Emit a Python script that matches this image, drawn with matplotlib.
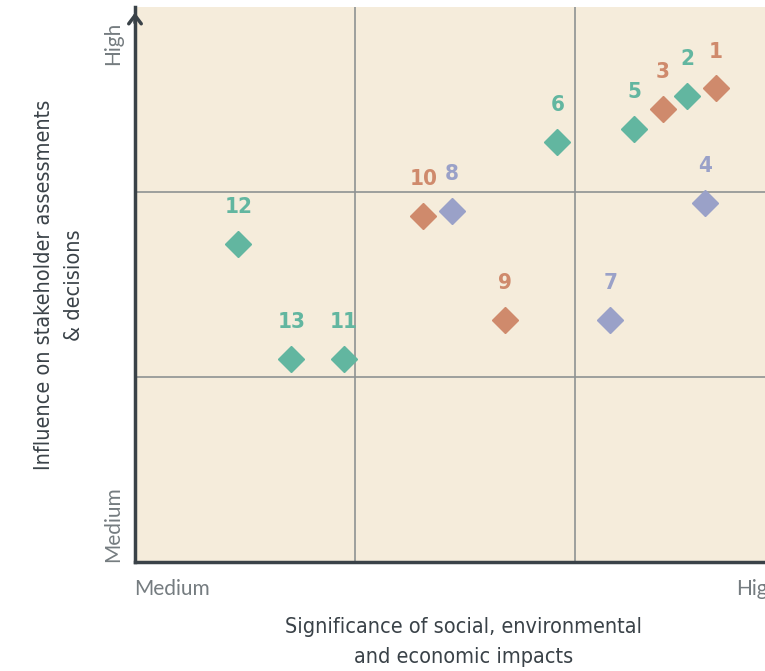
import matplotlib
matplotlib.use("Agg")
import matplotlib.pyplot as plt

labels = ["1", "2", "3", "4", "5", "6", "7", "8", "9", "10", "11", "12", "13"]
impact = [2.64, 2.51, 2.40, 2.59, 2.27, 1.92, 2.16, 1.44, 1.68, 1.31, 0.95, 0.47, 0.71]
influence = [2.56, 2.52, 2.45, 1.94, 2.34, 2.27, 1.31, 1.90, 1.31, 1.87, 1.10, 1.72, 1.10]
groups = ["o", "g", "o", "p", "g", "g", "p", "p", "o", "o", "g", "g", "g"]
group_colors = {"g": "#62b6a0", "o": "#cf8a6c", "p": "#9aa1c8"}

fig = plt.figure(figsize=(7.65, 6.71), dpi=100)
ax = fig.add_axes([135/765, 109/671, 660/765, 555/671])
ax.set_facecolor("#f5ecdb")
ax.set_xlim(0, 3)
ax.set_ylim(0, 3)

for v in (1, 2):
    ax.axvline(v, color="#8e9292", lw=1.2, zorder=1)
    ax.axhline(v, color="#8e9292", lw=1.2, zorder=1)

for lab, x, y, g in zip(labels, impact, influence, groups):
    c = group_colors[g]
    ax.plot(x, y, marker="D", ms=13, color=c, mec=c, ls="none", zorder=3, clip_on=False)
    ax.annotate(lab, (x, y), xytext=(0, 26.5), textcoords="offset points",
                ha="center", va="center", color=c, fontsize=16,
                fontfamily="DejaVu Sans", fontweight="bold", fontstretch="condensed")

for s in ("top", "right"):
    ax.spines[s].set_visible(False)
for s in ("left", "bottom"):
    ax.spines[s].set_color("#3a4248")
    ax.spines[s].set_linewidth(2.5)
ax.set_xticks([])
ax.set_yticks([])

# arrow head on the y axis
ax.annotate("", xy=(0, 2.985), xytext=(0, 2.9), xycoords="data",
            arrowprops=dict(arrowstyle="->,head_length=0.6,head_width=0.45",
                            color="#3a4248", lw=2.5), annotation_clip=False)

tick_col = "#757c80"
tick_kw = dict(fontsize=15, color=tick_col, fontfamily="Lato")
fig.text(134/765, 1 - 589/671, "Medium", ha="left", va="center", **tick_kw)
fig.text(736/765, 1 - 589/671, "High", ha="left", va="center", **tick_kw)
fig.text(113/765, 1 - 43/671, "High", ha="center", va="center", rotation=90, **tick_kw)
fig.text(113/765, 1 - 524/671, "Medium", ha="center", va="center", rotation=90, **tick_kw)

title_col = "#3a4248"
fig.text(464/765, 1 - 642/671, "Significance of social, environmental\nand economic impacts",
         ha="center", va="center", fontsize=15.5, color=title_col, linespacing=1.6,
         fontfamily="DejaVu Sans", fontstretch="condensed")
fig.text(59/765, 1 - 285/671, "Influence on stakeholder assessments\n& decisions",
         ha="center", va="center", rotation=90, fontsize=15.5, color=title_col, linespacing=1.6,
         fontfamily="DejaVu Sans", fontstretch="condensed")

fig.savefig("out.png", dpi=100, facecolor="white")
